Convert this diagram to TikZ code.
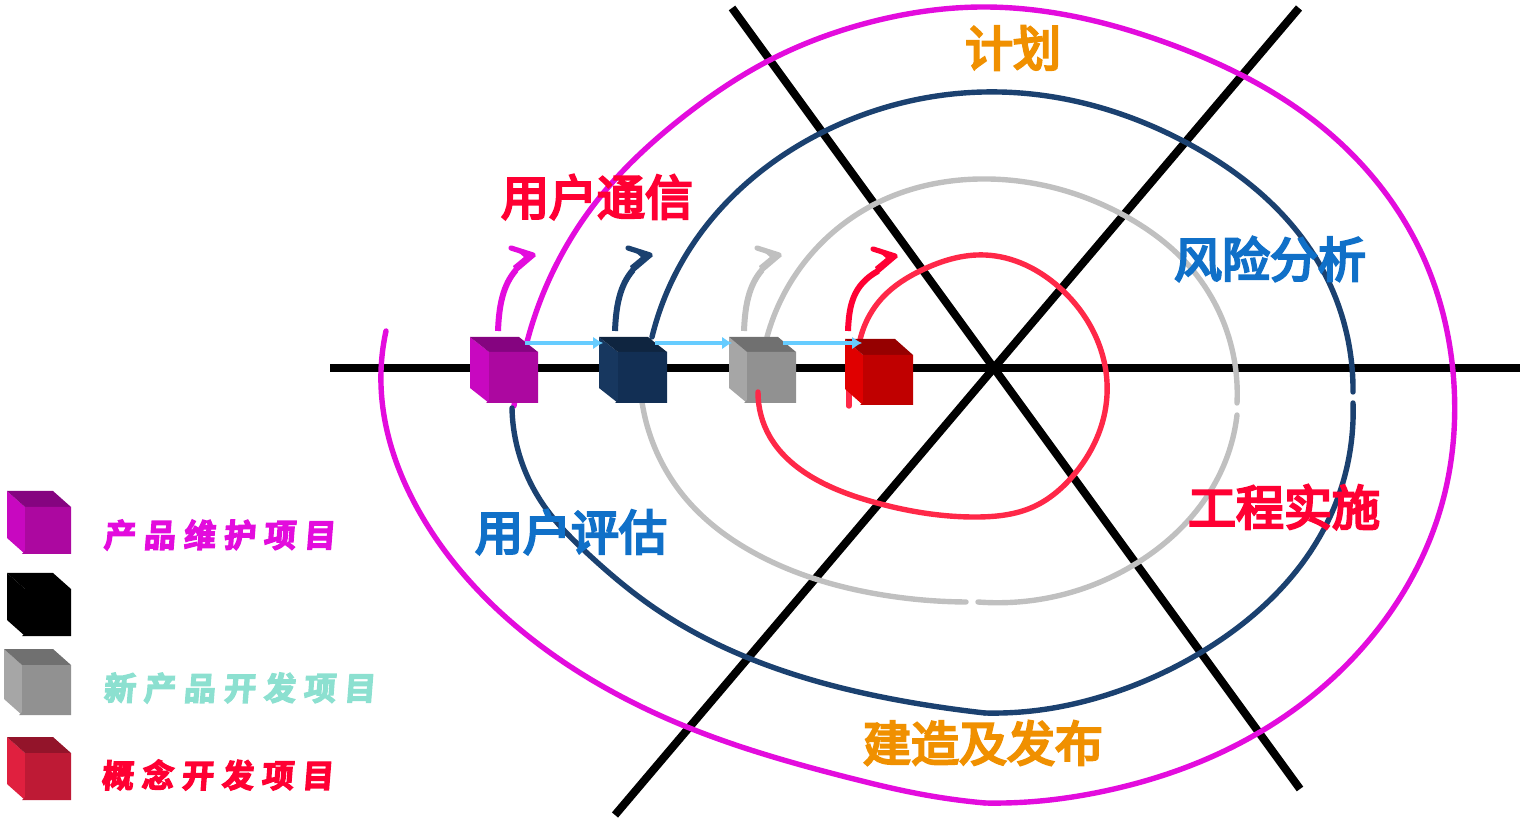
\documentclass[tikz,border=0pt]{standalone}
\usepackage{fontspec}
\usetikzlibrary{arrows.meta,hobby}
\newfontfamily\cjk[FakeBold=5]{Noto Sans CJK SC}
\newfontfamily\cjkleg[LetterSpace=25,FakeSlant=0.08,FakeBold=4]{Noto Sans CJK SC Bold}
\definecolor{cmag}{HTML}{E30CDD}
\definecolor{cnavy}{HTML}{1B4170}
\definecolor{cgray}{HTML}{C0C0C0}
\definecolor{cpink}{HTML}{FF2848}
\definecolor{cred}{HTML}{FF0033}
\definecolor{corange}{HTML}{F09000}
\definecolor{cblue}{HTML}{1070C8}
\definecolor{cteal}{HTML}{8CE0D0}
\definecolor{csky}{HTML}{66CCFF}
\definecolor{mS}{HTML}{C808C0}\definecolor{mT}{HTML}{850480}\definecolor{mF}{HTML}{AC08A0}
\definecolor{nS}{HTML}{17375F}\definecolor{nT}{HTML}{0F2540}\definecolor{nF}{HTML}{122F54}
\definecolor{gS}{HTML}{A6A6A6}\definecolor{gT}{HTML}{707070}\definecolor{gF}{HTML}{919191}
\definecolor{rS}{HTML}{E00000}\definecolor{rT}{HTML}{960000}\definecolor{rF}{HTML}{C00000}
\definecolor{lS}{HTML}{E0203F}\definecolor{lT}{HTML}{93142A}\definecolor{lF}{HTML}{BE1A35}
\tikzset{
  axis/.style={black,line width=4pt},
  stubline/.style={line width=2.7pt,line cap=round},
  spiral/.style={line width=2.7pt,line cap=round,use Hobby shortcut},
  curl/.style={line width=3pt},
  curlbarb/.style={line width=2.6pt,line cap=round},
  flow/.style={csky,line width=2.4pt,-{Latex[length=5pt,width=6.5pt]}},
  biglabel/.style={font=\cjk\fontsize{24}{28}\selectfont,inner sep=0pt},
  leglabel/.style={font=\cjkleg\fontsize{16}{18}\selectfont,inner sep=0pt,anchor=west},
}
% x1 y1 x2 y2 dx dy side top front
\newcommand{\cubefig}[9]{%
  \fill[#7] (#1,#2) -- (#1+#5,#2+#6) -- (#1+#5,#4) -- (#1,#4-#6) -- cycle;
  \fill[#8] (#1,#2) -- (#3-#5,#2) -- (#3,#2+#6) -- (#1+#5,#2+#6) -- cycle;
  \fill[#9] (#1+#5,#2+#6) -- (#3,#2+#6) -- (#3,#4) -- (#1+#5-3,#4) -- (#1+#5,#4-3) -- cycle;
}
% start x, tip x, tip y, colour
\newcommand{\curlfig}[4]{%
  \draw[curl,#4] (#1,331) .. controls (#1+1,305) and (#1+5,285) .. (#2-20,#3+14);
  \draw[curlbarb,#4] (#2-25,#3-8) -- (#2-3,#3-1);
  \fill[#4] (#2-25,#3-10) -- (#2,#3) -- (#2-20,#3+17) -- (#2-23,#3+10) -- (#2-12,#3+1) -- cycle;
}
\begin{document}
\begin{tikzpicture}[x=0.5pt,y=-0.5pt]
\useasboundingbox (0,0) rectangle (1524,822);
% axes
\coordinate (hL) at (330,368); \coordinate (hR) at (1520,368);
\coordinate (d1a) at (732,8);  \coordinate (d1b) at (1300,789);
\coordinate (d2a) at (1299,8); \coordinate (d2b) at (615,815);
\draw[axis] (hL) -- (hR);
\draw[axis] (d1a) -- (d1b);
\draw[axis] (d2a) -- (d2b);
% magenta spiral
\draw[spiral,cmag] (386,331) .. (381,385) .. (420,513) .. (537,643) .. (687,727) .. (850,778) .. (920,794) .. (985,803);
\draw[spiral,cmag] (985,803) .. (1040,801) .. (1100,792) .. (1260,732) .. (1387,617) .. (1443,500) .. (1454,385) .. (1420,250) .. (1317,123) .. (1167,43) .. (983,7) .. (867,23) .. (770,60) .. (683,117) .. (600,197) .. (527,342);
\draw[stubline,cmag] (515,399) -- (514,406);
% navy spiral
\draw[spiral,cnavy] (512,408) .. (520,457) .. (547,510) .. (587,553) .. (653,607) .. (850,690) .. (920,704) .. (985,713);
\draw[spiral,cnavy] (985,713) .. (1040,710) .. (1100,697) .. (1200,653) .. (1327,523) .. (1353,403);
\draw[spiral,cnavy] (1353,392) .. (1317,260) .. (1187,143) .. (1000,92) .. (823,132) .. (683,260) .. (652,337);
% gray spiral
\draw[spiral,cgray] (642,402) .. (687,500) .. (760,556) .. (883,595) .. (966,602);
\draw[spiral,cgray] (978,602) .. (1137,563) .. (1223,467) .. (1237,415);
\draw[spiral,cgray] (1237,403) .. (1190,267) .. (1127,217) .. (980,179) .. (873,205) .. (767,337);
% cubes on the axis
\cubefig{470}{337}{538}{403}{19}{15}{mS}{mT}{mF}
\cubefig{599}{337}{667}{403}{19}{15}{nS}{nT}{nF}
\cubefig{729}{337}{796}{403}{18}{15}{gS}{gT}{gF}
% red spiral
\draw[spiral,cpink] (758,392) .. (770,437) .. (817,480) .. (877,503) .. (977,517) .. (1033,507) .. (1072,477) .. (1107,395) .. (1060,288) .. (985,255) .. (922,270) .. (883,297) .. (860,340);
\draw[stubline,cpink] (849,390) -- (849,406);
\cubefig{845}{339}{913}{405}{18}{16}{rS}{rT}{rF}
% flow arrows
\coordinate (f1a) at (525,343); \coordinate (f1b) at (603,343);
\coordinate (f2a) at (655,343); \coordinate (f2b) at (732,343);
\coordinate (f3a) at (783,343); \coordinate (f3b) at (862,343);
\draw[flow] (f1a) -- (f1b);
\draw[flow] (f2a) -- (f2b);
\draw[flow] (f3a) -- (f3b);
% curled arrows
\curlfig{498}{536}{256}{cmag}
\curlfig{615}{653}{256}{cnavy}
\curlfig{744}{782}{256}{cgray}
\curlfig{848}{898}{257}{cred}
% big labels
\node[biglabel,text=corange] (plan) at (1013,48) {计划};
\node[biglabel,text=cred] (comm) at (597,197) {用户通信};
\node[biglabel,text=cblue] (risk) at (1270,259) {风险分析};
\node[biglabel,text=cred] (impl) at (1284,507) {工程实施};
\node[biglabel,text=cblue] (eval) at (571,532) {用户评估};
\node[biglabel,text=corange] (build) at (983,743) {建造及发布};
% legend
\cubefig{7}{491}{71}{554}{18}{16}{mS}{mT}{mF}
\cubefig{7}{573}{71}{636}{18}{16}{black}{black}{black}
\cubefig{4}{649}{71}{715}{18}{16}{gS}{gT}{gF}
\cubefig{7}{737}{71}{800}{18}{16}{lS}{lT}{lF}
\node[leglabel,text=cmag] (l1) at (103,535) {产品维护项目};
\node[leglabel,text=cteal] (l2) at (103,688) {新产品开发项目};
\node[leglabel,text=cred] (l3) at (101,775) {概念开发项目};
\end{tikzpicture}
\end{document}
